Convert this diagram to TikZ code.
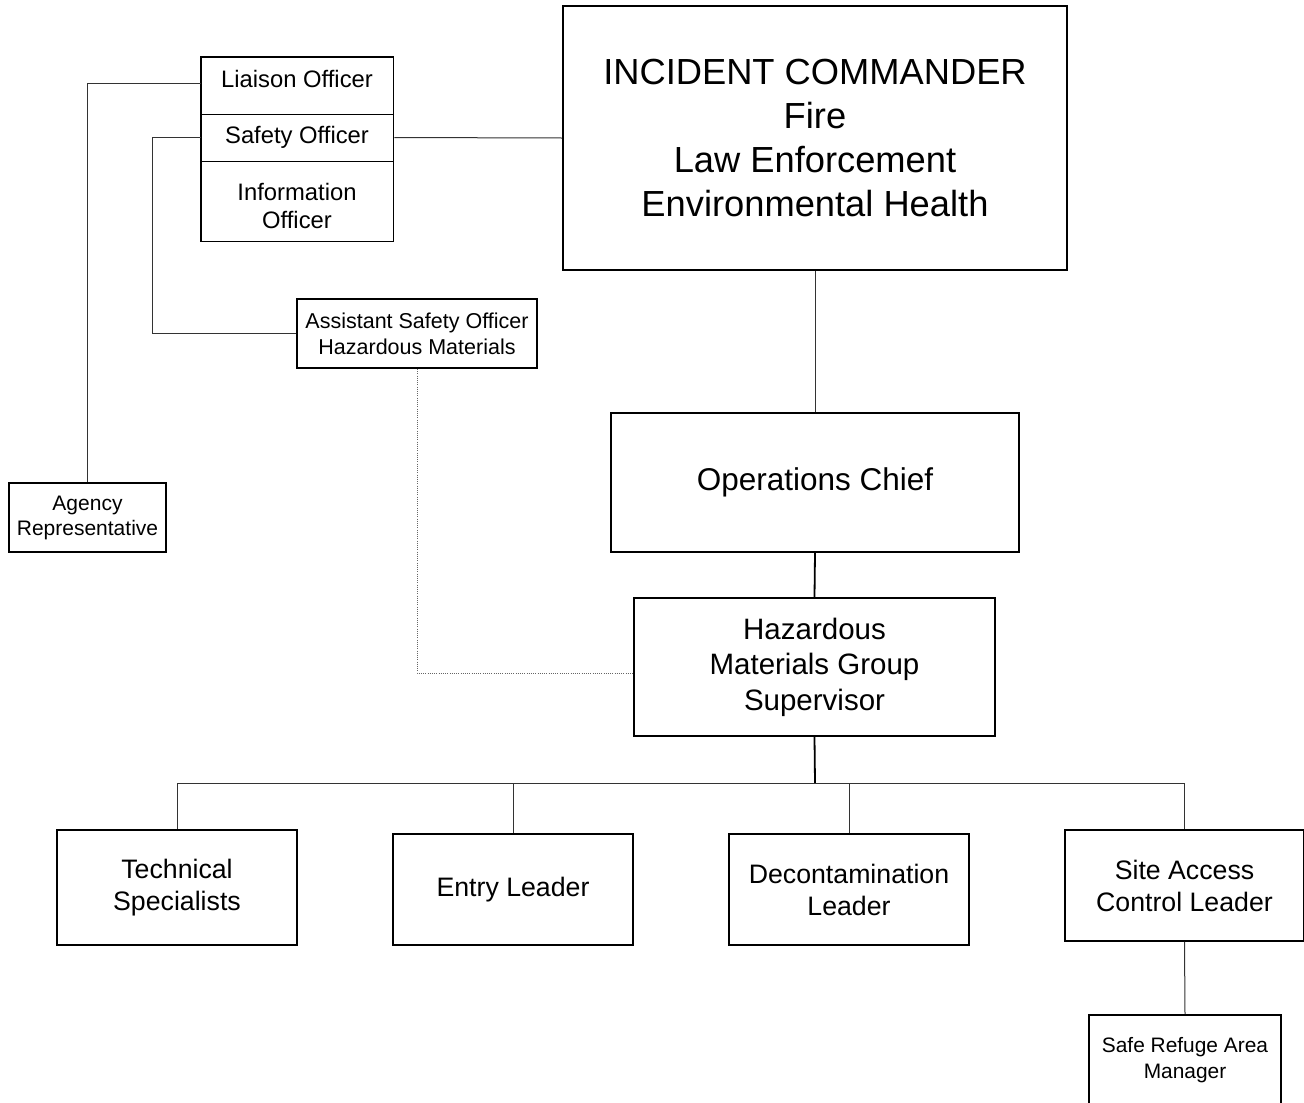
\documentclass[tikz,border=0pt]{standalone}
\usepackage{fontspec}
\setmainfont{Liberation Sans}
\usetikzlibrary{fit}
\tikzset{
  box/.style={draw, line width=1.8pt, rectangle, align=center, inner sep=0pt},
  cell/.style={draw, line width=0.9pt, rectangle, align=center, inner sep=0pt, minimum width=192pt},
  conn/.style={line width=1pt, draw=black!80},
  thickconn/.style={line width=1.8pt, draw=black},
  dotconn/.style={line width=0.9pt, draw=black!60, dash pattern=on 1pt off 1.2pt},
  fIC/.style={font=\fontsize{36.3}{44.3}\selectfont},
  fOff/.style={font=\fontsize{23.8}{28}\selectfont},
  fSmall/.style={font=\fontsize{21.5}{26}\selectfont},
  fOps/.style={font=\fontsize{31.5}{38}\selectfont},
  fHM/.style={font=\fontsize{29.5}{35.5}\selectfont},
  fBot/.style={font=\fontsize{26.7}{32}\selectfont},
}
\begin{document}
\begin{tikzpicture}[x=1pt,y=-1pt]
\useasboundingbox (0,0) rectangle (1304,1103);
% Incident commander
\node[box, fIC, minimum width=504pt, minimum height=264pt] (ic) at (815,138)
  {INCIDENT COMMANDER\\Fire\\Law Enforcement\\Environmental Health};
% officers stack
\node[cell, minimum height=57pt] (liaison) at (297,85.5) {};
\node[fOff, inner sep=0pt] (liaisontext) at (297,79) {Liaison Officer};
\node[cell, fOff, minimum height=47pt] (safety) at (297,137.5) {Safety Officer};
\node[cell, minimum height=80pt] (info) at (297,201) {};
\node[fOff, align=center, inner sep=0pt] (infotext) at (297,206) {Information\\Officer};
\node[box, fit=(liaison)(safety)(info)] (officers) {};
% assistant safety officer
\node[box, fSmall, minimum width=240pt, minimum height=69pt] (asst) at (417,333.5)
  {Assistant Safety Officer\\Hazardous Materials};
% agency representative
\node[box, font=\fontsize{21}{25}\selectfont, minimum width=157pt, minimum height=69pt] (agency) at (87.5,517.5)
  {Agency\\Representative};
% operations chief
\node[box, fOps, minimum width=408pt, minimum height=139pt] (ops) at (815,482.5) {Operations Chief};
% hazmat group supervisor
\node[box, fHM, minimum width=361pt, minimum height=138pt] (hmgs) at (814.5,667)
  {Hazardous\\Materials Group\\Supervisor};
% bottom row
\node[box, fBot, minimum width=240pt, minimum height=115pt] (tech) at (177,887.5) {Technical\\Specialists};
\node[box, fBot, minimum width=240pt, minimum height=111pt] (entry) at (513,889.5) {Entry Leader};
\node[box, fBot, minimum width=240pt, minimum height=111pt] (decon) at (849,889.5) {Decontamination\\Leader};
\node[box, fBot, minimum width=239pt, minimum height=111pt] (site) at (1184.5,885.5) {Site Access\\Control Leader};
\node[box, minimum width=192pt, minimum height=97pt] (refuge) at (1185,1063.5) {};
\node[font=\fontsize{20.9}{26}\selectfont, align=center, inner sep=0pt] (refugetext) at (1185,1060) {Safe Refuge Area\\Manager};
% connectors
\draw[conn] ([yshift=2.5pt]liaison.west) -| (agency.north);
\draw[conn] (safety.west) -- ++(-48,0) |- (asst.west);
\draw[conn] (officers.east |- safety.east) -- (ic.west);
\draw[conn] (ic.south) -- (ops.north);
\draw[thickconn] (ops.south) -- (hmgs.north);
\coordinate (bus) at (815,783);
\draw[thickconn] (hmgs.south) -- (bus);
\draw[conn] (tech.north) |- (bus) -| (site.north);
\draw[conn] (entry.north) -- (entry.north |- bus);
\draw[conn] (decon.north) -- (decon.north |- bus);
\draw[conn] (site.south) -- (refuge.north);
\draw[dotconn] (asst.south) |- ([yshift=-6pt]hmgs.west);
\end{tikzpicture}
\end{document}
